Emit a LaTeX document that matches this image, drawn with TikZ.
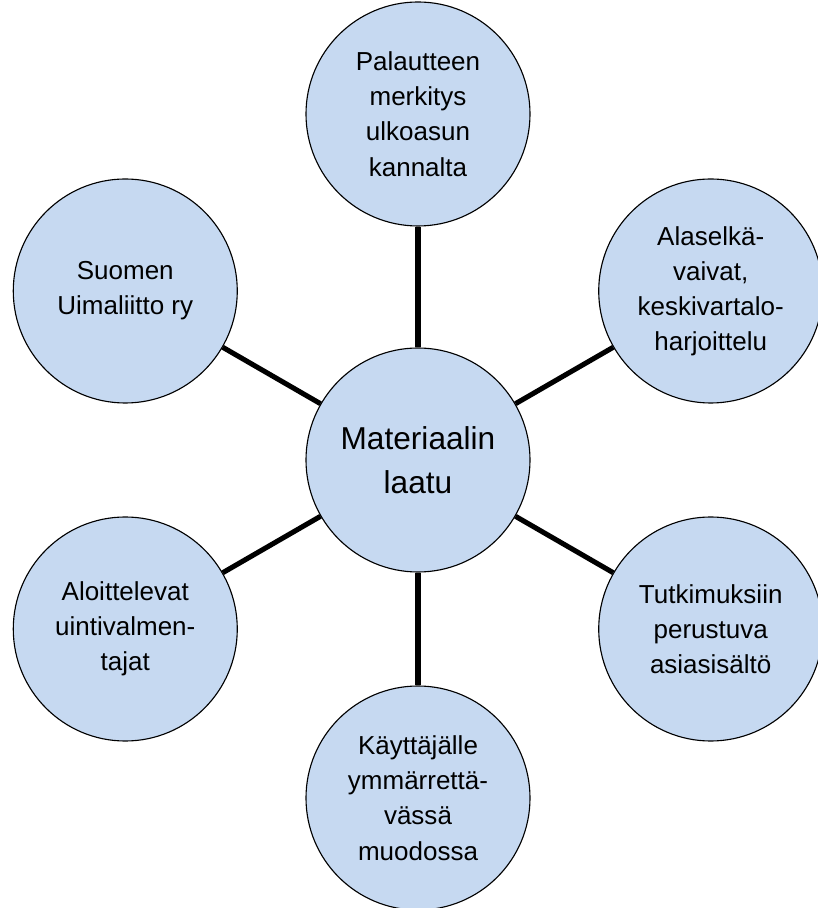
\documentclass[tikz,border=0pt]{standalone}
\usepackage{fontspec}
\setmainfont{Liberation Sans}
\usetikzlibrary{positioning}
\definecolor{bubbleblue}{HTML}{C6D9F1}
\tikzset{
    node distance=8.45cm, % distance from the middle circle to each topic
    topic/.style={circle, draw, line width=0.8pt, fill=bubbleblue,
      minimum size=5.6cm, inner sep=0pt, align=center,
      font=\fontsize{18.5}{25}\selectfont}, % the outer circles
    link/.style={line width=3.6pt}, % spokes
}

\begin{document}
\begin{tikzpicture}[]
  \useasboundingbox (-10.45,-11.2) rectangle (9.975,11.5);

  % middle topic
  \node[topic, font=\fontsize{22.5}{31}\selectfont] (m) at (0,0) {Materiaalin\\laatu};

  \node[topic] (t_0) at (90:8.65)  {Palautteen\\merkitys\\ulkoasun\\kannalta};
  \node[topic] (t_1) at (30:8.45)  {Alaselkä-\\vaivat,\\keskivartalo-\\harjoittelu};
  \node[topic] (t_2) at (-30:8.45) {Tutkimuksiin\\perustuva\\asiasisältö};
  \node[topic] (t_3) at (-90:8.45) {Käyttäjälle\\ymmärrettä-\\vässä\\muodossa};
  \node[topic] (t_4) at (210:8.45) {Aloittelevat\\uintivalmen-\\tajat};
  \node[topic] (t_5) at (150:8.45) {Suomen\\Uimaliitto ry};

  \path[link]
    (m) edge (t_0)
        edge (t_1)
        edge (t_2)
        edge (t_3)
        edge (t_4)
        edge (t_5);
\end{tikzpicture}
\end{document}
